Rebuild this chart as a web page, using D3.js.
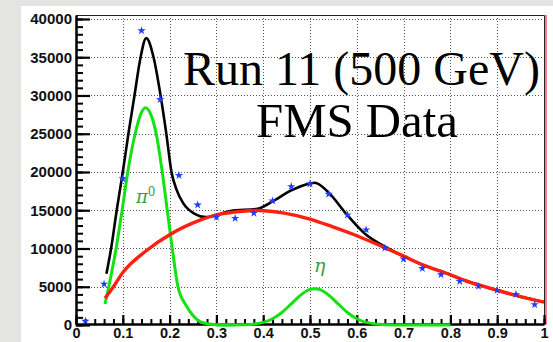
<!DOCTYPE html>
<html>
<head>
<meta charset="utf-8">
<script src="https://cdn.jsdelivr.net/npm/d3@7"></script>
<style>
	html, body { margin: 0; padding: 0; background: #e4e4e2; }
	svg { display: block; }
</style>
</head>
<body>
<div id="chart"></div>
<script>
// Invariant mass fit, FMS Run 11 data, drawn with D3

const W = 553;
const H = 342;

// axis ticks
const xTicks = [0, 0.1, 0.2, 0.3, 0.4, 0.5, 0.6, 0.7, 0.8, 0.9, 1];
const yTicks = [0, 5000, 10000, 15000, 20000, 25000, 30000, 35000, 40000];

// histogram (blue stars)
const binCenters = [0.02, 0.06, 0.10, 0.14, 0.18, 0.22, 0.26, 0.30, 0.34, 0.38, 0.42, 0.46, 0.50,
	0.54, 0.58, 0.62, 0.66, 0.70, 0.74, 0.78, 0.82, 0.86, 0.90, 0.94, 0.98];
const counts = [500, 5350, 19130, 38480, 29480, 19560, 15700, 14100, 13950, 14630, 16230, 18100, 18450,
	17100, 14400, 12450, 10060, 8630, 7400, 6580, 5710, 5060, 4540, 4020, 2670];

// pi0 peak (green)
const pi0X = [0.062, 0.070, 0.0857, 0.0986, 0.1107, 0.1264, 0.138, 0.1486, 0.160, 0.1714, 0.1843,
	0.195, 0.2057, 0.2179, 0.2357, 0.250, 0.271, 0.300, 0.340];
const pi0Y = [2740, 5000, 10000, 15000, 20000, 25000, 27500, 28390, 27500, 25000, 20000,
	15000, 10000, 5000, 2520, 1250, 300, 40, 0];

// eta peak (green)
const etaX = [0.30, 0.36, 0.40, 0.42, 0.44, 0.46, 0.48, 0.50, 0.51, 0.52, 0.54, 0.56, 0.58, 0.60, 0.62, 0.66, 0.70, 0.80];
const etaY = [0, 30, 340, 820, 1640, 2760, 3910, 4650, 4750, 4650, 3910, 2760, 1640, 820, 340, 40, 5, 0];

// background (red)
const bkgX = [0.062, 0.08, 0.10, 0.15, 0.20, 0.265, 0.30, 0.337, 0.39, 0.445, 0.50, 0.55, 0.60, 0.66,
	0.70, 0.745, 0.79, 0.83, 0.875, 0.915, 0.96, 1.0];
const bkgY = [3500, 5000, 6850, 9700, 11800, 13700, 14400, 14760, 14970, 14630, 13850, 12800, 11670, 10100,
	9000, 7760, 6800, 5840, 4980, 4280, 3550, 3000];

// total fit (black)
const totX = [0.065, 0.075, 0.087, 0.100, 0.112, 0.125, 0.138, 0.150, 0.1657, 0.1807, 0.193, 0.204, 0.215,
	0.229, 0.251, 0.279, 0.33, 0.388, 0.42, 0.46, 0.50, 0.51, 0.54, 0.575, 0.618, 0.66, 0.70, 0.745, 0.79,
	0.83, 0.875, 0.915, 0.96, 1.0];
const totY = [6700, 10000, 15000, 20000, 25000, 30000, 35000, 37500, 35000, 30000, 25000, 20000, 17670,
	15930, 14630, 14100, 14900, 15200, 16150, 17600, 18500, 18600, 17300, 14700, 11900, 10250, 9000, 7760, 6800,
	5840, 4980, 4280, 3550, 3000];

const titleLines = ['Run 11 (500 GeV)', 'FMS Data'];

const plot = {left: 76, right: 544, top: 15, bottom: 325};

const svg = d3.select('#chart')
	.append('svg')
	.attr('width', W)
	.attr('height', H);

svg.append('rect')
	.attr('width', W).attr('height', H)
	.attr('fill', '#e4e4e2');

// white canvas
svg.append('rect')
	.attr('x', 21).attr('y', 6)
	.attr('width', W - 21).attr('height', H - 6)
	.attr('fill', '#fff');

const x = d3.scaleLinear().domain([0, 1]).range([plot.left, plot.right]);
const y = d3.scaleLinear().domain([0, 40520]).range([plot.bottom, plot.top]);

// grid
const grid = svg.append('g')
	.attr('stroke', '#555')
	.attr('stroke-width', 1)
	.attr('stroke-dasharray', '1,2');

grid.selectAll('.gx')
	.data(xTicks.filter(d => d > 0 && d < 1))
	.join('line')
	.attr('x1', d => Math.round(x(d)) + 0.5).attr('x2', d => Math.round(x(d)) + 0.5)
	.attr('y1', plot.top).attr('y2', plot.bottom);

grid.selectAll('.gy')
	.data(yTicks.filter(d => d > 0))
	.join('line')
	.attr('y1', d => Math.round(y(d)) + 0.5).attr('y2', d => Math.round(y(d)) + 0.5)
	.attr('x1', plot.left).attr('x2', plot.right);

// frame (top and right)
svg.append('path')
	.attr('d', `M${plot.left},${plot.top + 0.5}H${plot.right + 0.5}V${plot.bottom}`)
	.attr('fill', 'none')
	.attr('stroke', '#222')
	.attr('stroke-width', 1);
svg.append('line')
	.attr('x1', plot.right + 2).attr('x2', plot.right + 2)
	.attr('y1', plot.top).attr('y2', plot.bottom)
	.attr('stroke', '#e33')
	.attr('stroke-width', 1.2);

// minor ticks
const minorY = d3.axisLeft(y).tickValues(d3.range(0, 40001, 1000)).tickSize(-7).tickFormat('');
const minorX = d3.axisBottom(x).tickValues(d3.range(0, 51).map(i => i / 50)).tickSize(-5).tickFormat('');

svg.append('g')
	.attr('transform', `translate(${plot.left},0)`)
	.call(minorY)
	.call(g => g.select('.domain').remove())
	.selectAll('line').attr('stroke-width', 2);

svg.append('g')
	.attr('transform', `translate(0,${plot.bottom - 1})`)
	.call(minorX)
	.call(g => g.select('.domain').remove())
	.selectAll('line').attr('stroke-width', 2);

// major axes
const yAxis = d3.axisLeft(y)
	.tickValues(yTicks)
	.tickSize(-14)
	.tickSizeOuter(0)
	.tickPadding(4)
	.tickFormat(d3.format('d'));

const xAxis = d3.axisBottom(x)
	.tickValues(xTicks)
	.tickSize(-9)
	.tickSizeOuter(0)
	.tickPadding(4)
	.tickFormat(d => String(+d.toFixed(1)));

svg.append('g')
	.attr('transform', `translate(${plot.left},0)`)
	.call(yAxis)
	.call(g => g.select('.domain').attr('stroke-width', 2.5))
	.call(g => g.selectAll('line').attr('stroke-width', 2.2))
	.call(g => g.selectAll('text')
		.attr('fill', '#111')
		.style('font', 'bold 15px "Liberation Sans", Arial, sans-serif'));

svg.append('g')
	.attr('transform', `translate(0,${plot.bottom - 1})`)
	.call(xAxis)
	.call(g => g.select('.domain').attr('stroke-width', 2.5))
	.call(g => g.selectAll('line').attr('stroke-width', 2.2))
	.call(g => g.selectAll('text')
		.attr('fill', '#111')
		.style('font', 'bold 14.5px "Liberation Sans", Arial, sans-serif'));

// curves
svg.append('clipPath').attr('id', 'clip')
	.append('rect')
	.attr('x', plot.left).attr('y', plot.top)
	.attr('width', plot.right - plot.left).attr('height', plot.bottom - plot.top + 2);

const line = d3.line()
	.x(d => x(d[0]))
	.y(d => y(d[1]))
	.curve(d3.curveMonotoneX);

const curves = svg.append('g').attr('clip-path', 'url(#clip)').attr('fill', 'none');

curves.append('path')
	.attr('d', line(d3.zip(pi0X, pi0Y)))
	.attr('stroke', '#16e016')
	.attr('stroke-width', 3);

curves.append('path')
	.attr('d', line(d3.zip(etaX, etaY)))
	.attr('stroke', '#16e016')
	.attr('stroke-width', 3);

curves.append('path')
	.attr('d', line(d3.zip(totX, totY)))
	.attr('stroke', '#000')
	.attr('stroke-width', 2.6);

curves.append('path')
	.attr('d', line(d3.zip(bkgX, bkgY)))
	.attr('stroke', '#ff2010')
	.attr('stroke-width', 3.4);

// data points
const star = d3.symbol().type(d3.symbolStar).size(22);
svg.append('g')
	.selectAll('path')
	.data(d3.zip(binCenters, counts))
	.join('path')
	.attr('transform', d => `translate(${x(d[0])},${y(d[1])})`)
	.attr('d', star)
	.attr('fill', '#1f3cff');

// labels
svg.append('text')
	.attr('x', 136).attr('y', 203)
	.attr('fill', '#3a9e3a')
	.style('font', 'italic 18px "DejaVu Serif", "Liberation Serif", serif')
	.text('π')
	.append('tspan')
	.attr('dy', -7)
	.style('font-style', 'normal')
	.style('font-size', '12px')
	.text('0');

svg.append('text')
	.attr('x', 314).attr('y', 272)
	.attr('fill', '#3a9e3a')
	.style('font', 'italic 19px "DejaVu Serif", "Liberation Serif", serif')
	.text('η');

svg.append('text')
	.attr('x', 183).attr('y', 85)
	.attr('textLength', 357)
	.attr('lengthAdjust', 'spacingAndGlyphs')
	.attr('fill', '#000')
	.style('font', '48px "Liberation Serif", "Times New Roman", serif')
	.text(titleLines[0]);

svg.append('text')
	.attr('x', 256).attr('y', 137)
	.attr('textLength', 202)
	.attr('lengthAdjust', 'spacingAndGlyphs')
	.attr('fill', '#000')
	.style('font', '48px "Liberation Serif", "Times New Roman", serif')
	.text(titleLines[1]);
</script>
</body>
</html>
